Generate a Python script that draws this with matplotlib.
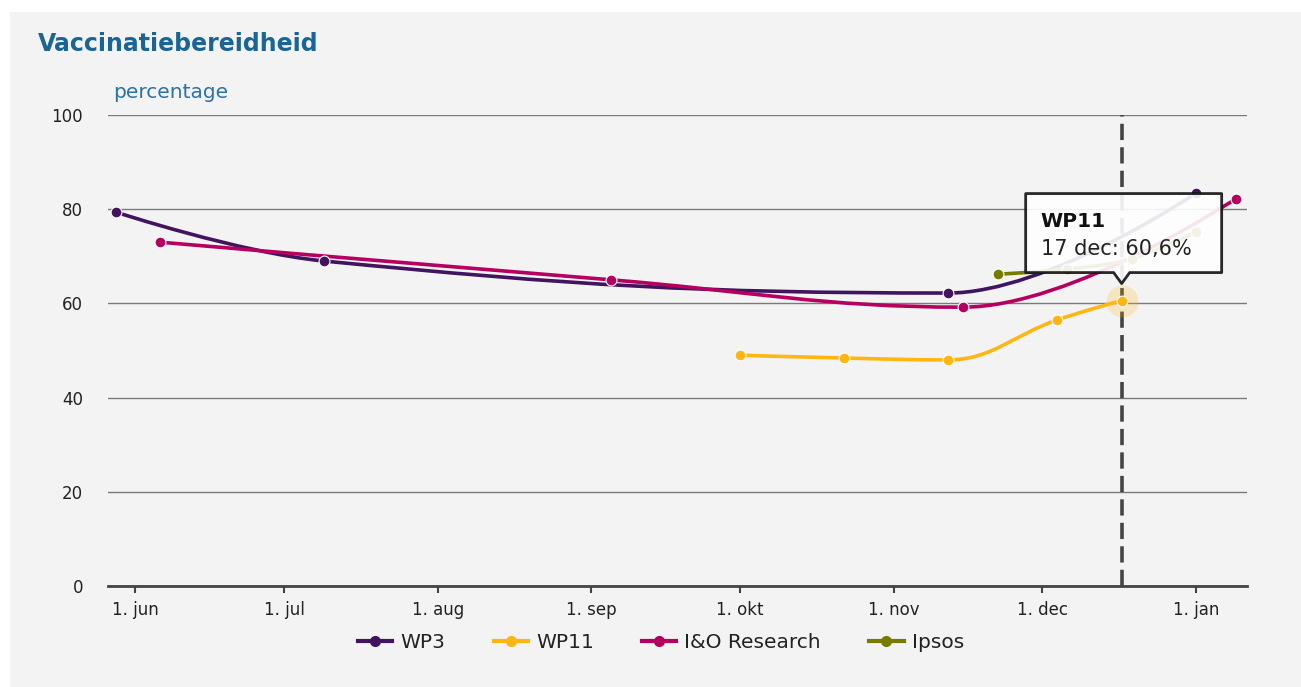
import numpy as np
import matplotlib
matplotlib.use("Agg")
import matplotlib.pyplot as plt
import matplotlib.dates as mdates
import matplotlib.transforms as mtransforms
from matplotlib.path import Path
from matplotlib.patches import PathPatch, Polygon, Rectangle
from matplotlib.lines import Line2D

# data
wp3_dates = ["2020-05-28", "2020-07-09", "2020-11-12", "2021-01-01"]
wp3_vals = [79.4, 69.0, 62.2, 83.4]

wp11_dates = ["2020-10-01", "2020-10-22", "2020-11-12", "2020-12-04", "2020-12-17"]
wp11_vals = [49.0, 48.4, 48.0, 56.5, 60.6]

io_dates = ["2020-06-06", "2020-09-05", "2020-11-15", "2021-01-09"]
io_vals = [73.0, 65.0, 59.2, 82.2]

ipsos_dates = ["2020-11-22", "2020-12-06", "2020-12-19", "2021-01-01"]
ipsos_vals = [66.2, 67.3, 69.5, 75.2]

series_names = ["WP3", "WP11", "I&O Research", "Ipsos"]
colors = ["#42145f", "#ffb612", "#b5005f", "#777c00"]

tick_dates = ["2020-06-01", "2020-07-01", "2020-08-01", "2020-09-01",
              "2020-10-01", "2020-11-01", "2020-12-01", "2021-01-01"]
tick_labels = ["1. jun", "1. jul", "1. aug", "1. sep",
               "1. okt", "1. nov", "1. dec", "1. jan"]
y_ticks = [0, 20, 40, 60, 80, 100]

tooltip_series = "WP11"
tooltip_date = "2020-12-17"
tooltip_val = 60.6
tooltip_text = "17 dec: 60,6%"

BG = "#f3f3f3"


def to_num(dates):
    return mdates.date2num(np.array(dates, dtype="datetime64[D]"))


def spline_path(xs, ys, smoothing=1.5):
    # highcharts-like spline: cubic bezier with smoothed control points
    n = len(xs)
    right = [None] * n
    left = [None] * n
    for i in range(1, n - 1):
        px, py = xs[i], ys[i]
        lx, ly = xs[i - 1], ys[i - 1]
        nx, ny = xs[i + 1], ys[i + 1]
        d = smoothing + 1
        lcx = (smoothing * px + lx) / d
        lcy = (smoothing * py + ly) / d
        rcx = (smoothing * px + nx) / d
        rcy = (smoothing * py + ny) / d
        corr = 0
        if rcx != lcx:
            corr = (rcy - lcy) * (rcx - px) / (rcx - lcx) + py - rcy
        lcy += corr
        rcy += corr
        if lcy > ly and lcy > py:
            lcy = max(ly, py)
            rcy = 2 * py - lcy
        elif lcy < ly and lcy < py:
            lcy = min(ly, py)
            rcy = 2 * py - lcy
        if rcy > ny and rcy > py:
            rcy = max(ny, py)
            lcy = 2 * py - rcy
        elif rcy < ny and rcy < py:
            rcy = min(ny, py)
            lcy = 2 * py - rcy
        left[i] = (lcx, lcy)
        right[i] = (rcx, rcy)
    verts = [(xs[0], ys[0])]
    codes = [Path.MOVETO]
    for i in range(1, n):
        c1 = right[i - 1] if right[i - 1] is not None else (xs[i - 1], ys[i - 1])
        c2 = left[i] if left[i] is not None else (xs[i], ys[i])
        verts += [c1, c2, (xs[i], ys[i])]
        codes += [Path.CURVE4] * 3
    return Path(verts, codes)


fig = plt.figure(figsize=(13.01, 6.87), dpi=100)
fig.patch.set_facecolor("white")
fig.patches.append(Rectangle((10 / 1301, 0), 1, 1 - 12 / 687,
                             transform=fig.transFigure, facecolor=BG,
                             edgecolor="none", zorder=-10))

ax = fig.add_axes([108 / 1301, 1 - 586 / 687, (1247 - 108) / 1301, (586 - 115) / 687])
ax.set_facecolor(BG)

all_dates = [wp3_dates, wp11_dates, io_dates, ipsos_dates]
all_vals = [wp3_vals, wp11_vals, io_vals, ipsos_vals]

for name, d, v, c in zip(series_names, all_dates, all_vals, colors):
    xs = to_num(d)
    patch = PathPatch(spline_path(list(xs), list(v)), facecolor="none",
                      edgecolor=c, lw=2.6, zorder=3, capstyle="round")
    ax.add_patch(patch)
    ax.plot(xs, v, "o", color=c, ms=7.8, mec="white", mew=0.8, zorder=4)

ax.set_xlim(mdates.date2num(np.datetime64("2020-05-26T11:00")),
            mdates.date2num(np.datetime64("2021-01-11T07:00")))
ax.set_ylim(0, 100)

ax.set_yticks(y_ticks)
ax.set_xticks(to_num(tick_dates))
ax.set_xticklabels(tick_labels)
ax.tick_params(axis="y", length=0, pad=18, labelsize=12, labelcolor="#222222")
ax.tick_params(axis="x", length=5, width=1.5, color="#444444", pad=6,
               labelsize=12, labelcolor="#222222")

ax.grid(axis="y", color="#7a7a7a", lw=1)
ax.set_axisbelow(True)
for s in ["top", "right", "left"]:
    ax.spines[s].set_visible(False)
ax.spines["bottom"].set_color("#444444")
ax.spines["bottom"].set_linewidth(2)
ax.spines["bottom"].set_zorder(2)

# crosshair
tx = to_num([tooltip_date])[0]
ax.axvline(tx, color="#444444", lw=2.6, ls=(0, (4.5, 2)), zorder=2)

# halo on hovered point
ax.plot([tx], [tooltip_val], "o", color="#ffb612", alpha=0.22, ms=23, mec="none", zorder=3.5)

# tooltip callout (offsets in pixels from the hovered point)
anchor = mtransforms.Affine2D() + mtransforms.ScaledTranslation(tx, tooltip_val, ax.transData)
box = [(-96, 107), (100, 107), (100, 28), (8, 28), (0, 17), (-8, 28), (-96, 28)]
callout = Polygon(box, closed=True, transform=anchor, facecolor="white",
                  edgecolor="#111111", lw=2, alpha=0.9, zorder=10, joinstyle="round")
ax.add_patch(callout)
callout.set_clip_on(False)
ax.annotate(tooltip_series, xy=(tx, tooltip_val), xytext=(-81, 79),
            textcoords="offset pixels", fontsize=14.5, fontweight="bold",
            color="#111111", va="center", ha="left", zorder=11)
ax.annotate(tooltip_text, xy=(tx, tooltip_val), xytext=(-81, 52),
            textcoords="offset pixels", fontsize=15,
            color="#222222", va="center", ha="left", zorder=11)

# titles
fig.text(38 / 1301, 1 - 44 / 687, "Vaccinatiebereidheid", fontsize=17,
         fontweight="bold", color="#1a6596", va="center", ha="left")
fig.text(113 / 1301, 1 - 93 / 687, "percentage", fontsize=14.5,
         color="#2a72a8", va="center", ha="left")

# legend
handles = [Line2D([0], [0], color=c, lw=3, marker="o", ms=7, mec=c) for c in colors]
leg = fig.legend(handles, series_names, loc="center", ncol=4,
                 bbox_to_anchor=(661 / 1301, 1 - 643 / 687), frameon=False,
                 fontsize=14.5, handlelength=1.7, handletextpad=0.4,
                 columnspacing=2.4)
for t in leg.get_texts():
    t.set_color("#222222")

fig.savefig("out.png", dpi=100, facecolor=fig.get_facecolor())
